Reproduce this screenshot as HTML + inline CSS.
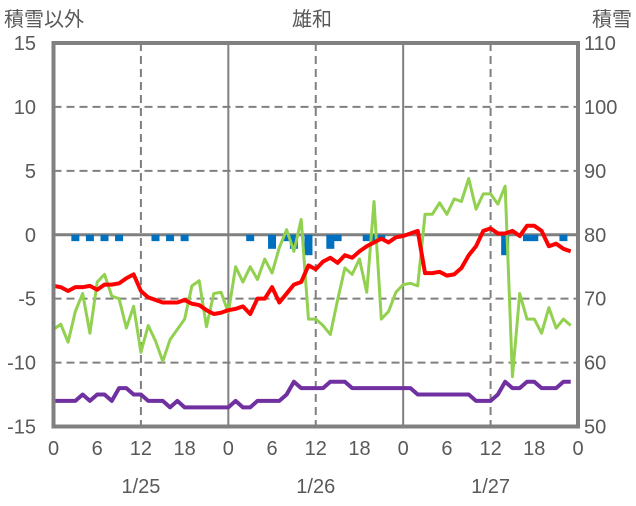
<!DOCTYPE html>
<html><head><meta charset="utf-8"><style>
body{margin:0;background:#fff;}
svg text{font-family:"Liberation Sans","Noto Sans CJK JP",sans-serif;fill:#595959;}
</style></head><body>
<svg id="c" width="636" height="501" xmlns="http://www.w3.org/2000/svg"></svg>
<script>
const hours=[...Array(72).keys()];
const redSeries=[-4.0,-4.1,-4.4,-4.1,-4.1,-4.0,-4.3,-3.9,-3.9,-3.8,-3.4,-3.1,-4.4,-4.9,-5.1,-5.3,-5.3,-5.3,-5.1,-5.4,-5.5,-5.9,-6.2,-6.1,
-5.9,-5.8,-5.6,-6.2,-5.0,-5.0,-4.1,-5.3,-4.6,-3.9,-3.7,-2.4,-2.7,-2.1,-1.8,-2.2,-1.6,-1.8,-1.3,-0.9,-0.6,-0.3,-0.6,-0.2,
-0.1,0.1,0.3,-3.0,-3.0,-2.9,-3.2,-3.1,-2.6,-1.6,-0.9,0.3,0.5,0.1,0.1,0.3,-0.1,0.7,0.7,0.3,-0.9,-0.7,-1.1,-1.3];
const greenSeries=[-7.4,-7.0,-8.4,-6.0,-4.6,-7.7,-3.7,-3.1,-4.8,-5.0,-7.3,-5.6,-9.2,-7.1,-8.3,-9.9,-8.2,-7.4,-6.6,-4.0,-3.6,-7.2,-4.6,-4.5,
-6.1,-2.5,-3.7,-2.5,-3.5,-1.9,-3.0,-1.0,0.4,-1.3,1.2,-6.6,-6.6,-7.1,-7.8,-5.1,-2.6,-3.1,-1.9,-4.5,2.6,-6.6,-6.0,-4.5,
-3.9,-3.8,-4.0,1.6,1.6,2.5,1.6,2.8,2.6,4.4,2.0,3.2,3.2,2.4,3.8,-11.1,-4.6,-6.6,-6.6,-7.7,-5.7,-7.3,-6.6,-7.1];
const snowDepth=[54,54,54,54,55,54,55,55,54,56,56,55,55,54,54,54,53,54,53,53,53,53,53,53,
53,54,53,53,54,54,54,54,55,57,56,56,56,56,57,57,57,56,56,56,56,56,56,56,
56,56,55,55,55,55,55,55,55,55,54,54,54,55,57,56,56,57,57,56,56,56,57,57];
const barHours=[3,5,7,9,14,16,18,27,30,32,33,35,38,39,43,44,45,62,65,66,70];
const barValues=[-0.5,-0.5,-0.5,-0.5,-0.5,-0.5,-0.5,-0.5,-1.1,-0.5,-1.1,-1.6,-1.1,-0.5,-0.5,-0.5,-0.5,-1.6,-0.5,-0.5,-0.5];
const leftTicks=[15,10,5,0,-5,-10,-15];
const rightTicks=[110,100,90,80,70,60,50];
const xTickLabels=[0,6,12,18,0,6,12,18,0,6,12,18,0];
const dateLabels=["1/25","1/26","1/27"];

const L=53.5,R=578,T=43,B=426.5;
const x=h=>L+(R-L)*h/72;
const yL=v=>T+(15-v)*(B-T)/30;
const yR=v=>T+(110-v)*(B-T)/60;
const svg=document.getElementById('c');
const NS='http://www.w3.org/2000/svg';
function mk(tag,attrs,parent){const e=document.createElementNS(NS,tag);for(const k in attrs)e.setAttribute(k,attrs[k]);(parent||svg).appendChild(e);return e;}

leftTicks.forEach(v=>{if(v===15||v===-15)return;
 const g=mk('line',{x1:L,x2:R,y1:yL(v),y2:yL(v),stroke:'#808080','stroke-width':v===0?3:2,'stroke-dasharray':v===0?'':'8,5'});
 
 });
for(let h=12;h<72;h+=12){
 const g=mk('line',{x1:x(h),x2:x(h),y1:T,y2:B,stroke:'#808080','stroke-width':2,'stroke-dasharray':h%24===0?'':'8,5'});
 
 }
barHours.forEach((h,i)=>{const y0=yL(0),y1=yL(barValues[i]);
 const b=mk('rect',{x:x(h)-4,y:y0,width:8,height:y1-y0,fill:'#0070C0'});
 
 });
function line(data,fy,color,w,name){const p=mk('polyline',{points:data.map((v,i)=>x(hours[i])+','+fy(v)).join(' '),fill:'none',stroke:color,'stroke-width':w,'stroke-linejoin':'round'});
 
 }
line(greenSeries,yL,'#92D050',3,'green-series-line');
line(redSeries,yL,'#FF0000',4,'temperature-line');
line(snowDepth,yR,'#7030A0',4,'snow-depth-line');
const f=mk('rect',{x:L,y:T,width:R-L,height:B-T,fill:'none',stroke:'#808080','stroke-width':4});


function txt(s,xx,yy,anchor,size,name){const t=mk('text',{x:xx,y:yy,'text-anchor':anchor,'font-size':size});t.textContent=s;
 
 }
leftTicks.forEach(v=>txt(String(v),36,yL(v)+7,'end',20,'left-tick-label'));
rightTicks.forEach(v=>txt(String(v),584,yR(v)+7,'start',20,'right-tick-label'));
xTickLabels.forEach((s,i)=>txt(String(s),x(i*6),455,'middle',20,'x-tick-label'));
dateLabels.forEach((s,i)=>txt(s,x(12+24*i),493,'middle',20,'date-label'));
txt('雄和',312,26,'middle',20,'chart-title');
txt('積雪以外',4,26,'start',20,'left-axis-title');
txt('積雪',632,26,'end',20,'right-axis-title');
</script>
</body></html>
